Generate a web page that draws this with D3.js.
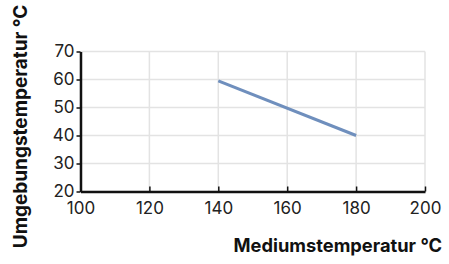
<!DOCTYPE html>
<html>
<head>
<meta charset="utf-8">
<script src="https://cdn.jsdelivr.net/npm/d3@7"></script>
<style>
  body { margin: 0; background: #fff; }
  text { font-family: Inter, "Noto Sans", sans-serif; }
</style>
</head>
<body>
<div id="chart"></div>
<script>
// Daten
const mediumTemp = [140, 180];
const ambientTemp = [59.5, 40];
const xTicks = [100, 120, 140, 160, 180, 200];
const yTicks = [20, 30, 40, 50, 60, 70];
const xTitle = "Mediumstemperatur °C";
const yTitle = "Umgebungstemperatur °C";

const W = 449, H = 264;
const margin = { top: 51.5, right: 24, bottom: 72.5, left: 80.5 };
const width = W - margin.left - margin.right,
      height = H - margin.top - margin.bottom;

const svg = d3.select("#chart").append("svg")
  .attr("width", W).attr("height", H);
const g = svg.append("g")
  .attr("transform", `translate(${margin.left},${margin.top})`);

const x = d3.scaleLinear().domain([100, 200]).range([0, width]);
const y = d3.scaleLinear().domain([20, 70]).range([height, 0]);

// Gitternetz
g.append("g").selectAll("line")
  .data(yTicks).enter().append("line")
  .attr("x1", 0).attr("x2", width)
  .attr("y1", d => y(d)).attr("y2", d => y(d))
  .style("stroke", "#e3e3e3").style("stroke-width", 1.5);
g.append("g").selectAll("line")
  .data(xTicks).enter().append("line")
  .attr("x1", d => x(d)).attr("x2", d => x(d))
  .attr("y1", 0).attr("y2", height)
  .style("stroke", "#e3e3e3").style("stroke-width", 1.5);

// Linie
const line = d3.line().x(d => x(d[0])).y(d => y(d[1]));
g.append("path")
  .datum(mediumTemp.map((v, i) => [v, ambientTemp[i]]))
  .attr("d", line)
  .style("fill", "none")
  .style("stroke", "#6f8fbd")
  .style("stroke-width", 3);

// X-Achse (Ticks nach innen)
const xAxis = g.append("g")
  .attr("transform", `translate(0,${height})`)
  .call(d3.axisBottom(x).tickValues(xTicks).tickSizeInner(-5).tickSizeOuter(0).tickPadding(10));
xAxis.select(".domain").style("stroke", "#111").style("stroke-width", 2.5);
xAxis.selectAll(".tick line").style("stroke", "#111").style("stroke-width", 1.5);
xAxis.selectAll(".tick text").style("font-size", "17px").style("fill", "#222");

// Y-Achse
const yAxis = g.append("g")
  .call(d3.axisLeft(y).tickValues(yTicks).tickSize(4).tickSizeOuter(0).tickPadding(2));
yAxis.select(".domain").style("stroke", "#111").style("stroke-width", 2.5);
yAxis.selectAll(".tick line").style("stroke", "#111").style("stroke-width", 1.5);
yAxis.selectAll(".tick text").style("font-size", "17px").style("fill", "#222");

// Achsentitel
svg.append("text")
  .attr("x", 442).attr("y", 252)
  .attr("text-anchor", "end")
  .style("font-size", "18.3px").style("font-weight", "bold").style("fill", "#111")
  .text(xTitle);

svg.append("text")
  .attr("transform", "translate(27,126.5) rotate(-90)")
  .attr("text-anchor", "middle")
  .style("font-size", "19px").style("font-weight", "bold").style("fill", "#111")
  .text(yTitle);
</script>
</body>
</html>
